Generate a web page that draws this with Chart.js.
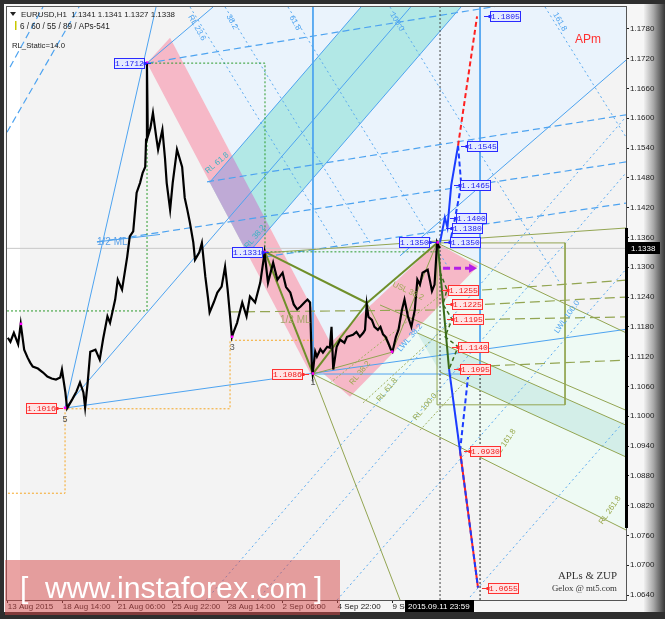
<!DOCTYPE html>
<html><head><meta charset="utf-8">
<script src="https://cdn.jsdelivr.net/npm/chart.js@4.4.1/dist/chart.umd.min.js"></script>
<style>html,body{margin:0;padding:0;background:#2e2e2e}#wrap{width:665px;height:619px}</style>
</head><body><div id="wrap"><canvas id="c" width="665" height="619"></canvas></div>
<script>
// ---------- DATA ----------
const priceBars = [0,3,7,12,15,19,23,26,29,35,41,46,51,56,61,63,67,69,75,80,84,88,90,93,96,102,107,111,116,119,125,128,133,139,142,146,150,154,157,160,161,162,163,166,169,173,175,180,183,185,189,192,197,203,206,209,212,216,218,223,226,230,233,235,240,244,249,253,256,261,263,267,273,278,282,288,294,299,303,309,314,320,324,329,333,337,341,346,349,352,354,355,358,360,364,367,372,375,377,379,383,387,392,395,402,406,410,414,416,418,420,424,427,431,434,437,440,443,446,448,452,455,459,462,466,470,474,477,480,483,489,492,494,497,500,503];
const priceClose = [1.1158,1.1150,1.1168,1.1145,1.1186,1.1134,1.1118,1.1108,1.1100,1.1096,1.1088,1.1080,1.1076,1.1074,1.1078,1.1094,1.1048,1.1016,1.1034,1.1050,1.1068,1.1048,1.1018,1.1068,1.1130,1.1134,1.1114,1.1156,1.1201,1.1188,1.1235,1.1275,1.1255,1.1321,1.1362,1.1372,1.1450,1.1470,1.1490,1.1502,1.1557,1.1712,1.1563,1.1580,1.1611,1.1560,1.1537,1.1577,1.1520,1.1470,1.1416,1.1470,1.1537,1.1502,1.1440,1.1416,1.1390,1.1350,1.1315,1.1330,1.1349,1.1281,1.1240,1.1209,1.1230,1.1249,1.1261,1.1301,1.1255,1.1160,1.1170,1.1188,1.1229,1.1201,1.1241,1.1229,1.1269,1.1329,1.1269,1.1309,1.1275,1.1289,1.1260,1.1249,1.1225,1.1215,1.1221,1.1230,1.1235,1.1229,1.1104,1.1086,1.1130,1.1120,1.1135,1.1128,1.1140,1.1138,1.1180,1.1094,1.1140,1.1154,1.1148,1.1160,1.1164,1.1170,1.1160,1.1168,1.1174,1.1225,1.1200,1.1194,1.1180,1.1174,1.1180,1.1165,1.1160,1.1148,1.1135,1.1130,1.1160,1.1174,1.1214,1.1235,1.1201,1.1180,1.1214,1.1275,1.1265,1.1289,1.1295,1.1270,1.1252,1.1265,1.1350,1.1338];
const lastPrice = 1.1338;
const xTickBars = [0,64,128,192,256,320,384,448];
const xTickLabels = ['13 Aug 2015','18 Aug 14:00','21 Aug 06:00','25 Aug 22:00','28 Aug 14:00','2 Sep 06:00','4 Sep 22:00','9 Sep 14:00'];
const yTickValues = [1.0640,1.0700,1.0760,1.0820,1.0880,1.0940,1.1000,1.1060,1.1120,1.1180,1.1240,1.1300,1.1360,1.1420,1.1480,1.1540,1.1600,1.1660,1.1720,1.1780];
const swingPoints = [[15.3,1.1186],[66.6,1.1017],[162.1,1.1712],[261.1,1.1160],[299.5,1.1331],[355.4,1.1086],[447.5,1.1130],[500.6,1.1350]];

// shaded zones (bar, price)
const lightBlueZone = [[162.1,1.1711],[239.0,1.1824],[720,1.1824],[720,1.1717],[550.0,1.1463],[550.0,1.1085],[355.4,1.1085],[355.4,1.1215],[188.9,1.1762]];
const mintZone = [[355.4,1.1085],[499.9,1.1349],[720,1.1168],[720,1.0771]];
const tealZone = [[476.6,1.1168],[720,1.0982],[720,1.0918],[503.4,1.1089]];
const pinkDownZone = [[162.1,1.1711],[188.9,1.1762],[393.6,1.1089],[352.8,1.1085]];
const pinkUpZone = [[351.9,1.1109],[499.9,1.1349],[547.6,1.1302],[398.5,1.1039]];
const cyanZone = [[235.1,1.1471],[411.3,1.1824],[527.8,1.1824],[279.3,1.1327]];
const lilacZone = [[235.1,1.1471],[261.3,1.1524],[305.5,1.1379],[279.3,1.1327]];

// line groups
const blueSolidLines = [
  [[66.6,1.1017],[172.6,1.1824]], [[66.6,1.1017],[469.2,1.1824]],
  [[235.1,1.1471],[411.3,1.1824]], [[279.3,1.1327],[527.8,1.1824]],
  [[68.9,1.1017],[720,1.1175]], [[162.1,1.1711],[239.0,1.1824]],
  [[456.8,1.1323],[720,1.1717]],
  [[355.4,1.1824],[355.4,1.1085]], [[550.0,1.1824],[550.0,1.1085]], [[355.4,1.1085],[550.0,1.1085]],
  [[103.8,1.1351],[177.2,1.1366]]
];
const blueDashedLines = [
  [[162.1,1.1711],[720,1.1868]], [[232.0,1.1472],[720,1.1607]],
  [[103.8,1.1351],[720,1.1512]], [[299.5,1.1321],[720,1.1429]],
  [[-1,1.1572],[82.9,1.1824]], [[2.5,1.1703],[40.9,1.1824]]
];
const blueDottedLines = [
  [[230.8,1.0630],[720,1.1603]], [[290.7,1.0630],[720,1.1490]],
  [[383.4,1.0630],[720,1.1296]], [[538.3,1.0636],[720,1.0994]],
  [[212.2,1.1824],[385.7,1.1335]], [[253.0,1.1824],[421.8,1.1349]],
  [[326.3,1.1824],[515.0,1.1294]], [[445.1,1.1824],[643.1,1.1268]],
  [[625.7,1.1824],[720,1.1562]]
];
const oliveThinLines = [
  [[418.3,1.1228],[447.5,1.1129]], [[447.5,1.1129],[499.9,1.1349]], [[355.4,1.1085],[447.5,1.1129]],
  [[355.4,1.1085],[720,1.0771]], [[355.4,1.1085],[456.8,1.0630]], [[499.9,1.1349],[720,1.1168]],
  [[476.6,1.1168],[720,1.0982]], [[503.4,1.1089],[720,1.0918]], [[433.5,1.1224],[720,1.1012]],
  [[299.5,1.1329],[720,1.1379]],
  [[499.9,1.1349],[649.0,1.1349],[649.0,1.1023],[499.9,1.1023],[499.9,1.1349]]
];
const oliveThickLines = [
  [[299.5,1.1331],[355.4,1.1086]], [[299.5,1.1331],[418.3,1.1228]],
  [[355.4,1.1086],[418.3,1.1228]], [[418.3,1.1228],[500.6,1.1350]]
];
const oliveDashedLines = [
  [[517.4,1.1250],[720,1.1274]], [[520.8,1.1222],[720,1.1240]], [[520.8,1.1194],[720,1.1200]],
  [[526.7,1.1099],[720,1.1113]], [[258.8,1.1210],[503.4,1.1214]]
];
const oliveDottedLines = [
  [[375.2,1.1067],[506.9,1.1248]], [[413.7,1.1027],[515.0,1.1188]], [[480.1,1.0972],[550.0,1.1103]]
];
const greenDottedPath = [[-1,1.1212],[162.1,1.1212],[162.1,1.1711],[299.5,1.1711],[299.5,1.1331],[499.9,1.1331]];
const orangeDottedPath = [[355.4,1.1153],[258.8,1.1153],[258.8,1.1015],[66.6,1.1015],[66.6,1.0845],[-1,1.0845]];
const nowLine = [[503.4,1.0630],[503.4,1.1824]];
const targetLine = [[550.0,1.0630],[550.0,1.1085]];

const upSolid = [[503.4,1.1350],[509,1.1400],[512,1.1380],[516.4,1.1465],[524.4,1.1545]];
const upDashed = [[524.4,1.1545],[528.1,1.1466],[520.9,1.1399],[515.0,1.1349]];
const upRed = [[524.4,1.1545],[546.5,1.1805]];
const downGreen = [[500.6,1.1350],[513.9,1.1095]];
const downGreenDashed = [[503.4,1.1290],[511.5,1.1255],[506.9,1.1225],[517.4,1.1195],[509.2,1.1160],[524.4,1.1140],[513.9,1.1095]];
const downBlue = [[513.9,1.1095],[526.7,1.0930]];
const downBlueDashed = [[526.7,1.0930],[547.6,1.0655]];
const downBlueBack = [[526.7,1.0930],[536.0,1.1079]];
const arrowLine = [[506.9,1.1298],[543.0,1.1298]];

const blueTags = [[561.6,1.1805,'1.1805','L'],[534.8,1.1545,'1.1545','L'],[526.7,1.1465,'1.1465','L'],[522.0,1.1400,'1.1400','L'],[517.4,1.1380,'1.1380','L'],[515.0,1.1350,'1.1350','L'],[491.7,1.1350,'1.1350','R'],[159.7,1.1712,'1.1712','R'],[297.2,1.1331,'1.1331','R']];
const redTags = [[512.7,1.1255,'1.1255','L'],[517.4,1.1225,'1.1225','L'],[518.6,1.1195,'1.1195','L'],[524.4,1.1140,'1.1140','L'],[526.7,1.1095,'1.1095','L'],[538.3,1.0930,'1.0930','L'],[559.3,1.0655,'1.0655','L'],[343.8,1.1086,'1.1086','R'],[57.2,1.1016,'1.1016','R']];
const rotLabels = [
  [220.3,1.1782,'RL 23.6',60,'#4da3f0'],[261.1,1.1794,'38.2',60,'#4da3f0'],[334.5,1.1792,'61.8',60,'#4da3f0'],
  [453.3,1.1794,'100.0',60,'#4da3f0'],[643.1,1.1794,'161.8',60,'#4da3f0'],
  [243.6,1.1510,'RL 61.8',-40,'#38b4c4'],[287.9,1.1361,'RL 38.2',-50,'#38b4c4'],
  [651.3,1.1200,'LWL 100.0',-55,'#4da3f0'],[468.4,1.1158,'LWL 38.2',-50,'#4da3f0'],
  [701.4,1.0811,'RL 261.8',-55,'#9aaa50'],[579.1,1.0946,'RL 161.8',-55,'#9aaa50'],
  [485.9,1.1019,'RL 100.0',-50,'#9aaa50'],[441.6,1.1053,'RL 61.8',-50,'#9aaa50'],
  [410.2,1.1087,'RL 38.2',-50,'#9aaa50'],[466.1,1.1252,'USL 38.2',25,'#9aaa50']
];
const plainLabels = [
  [103.8,1.1351,'1/2 ML','#5aa0e8',10],[317.0,1.1194,'1/2 ML','#a4a468',10],
  [660.6,1.1758,'APm','#ff3030',12],[63.5,1.0994,'5','#555',9],[258.5,1.1139,'3','#555',9],[352.5,1.1068,'1','#555',9]
];

// ---------- CHART ----------
const pts = a => a.map(p => ({x:p[0], y:p[1]}));
function lines(groups, color, width, dash){
  return groups.map(g => ({data:pts(g), borderColor:color, borderWidth:width, borderDash:dash, pointRadius:0, fill:false, tension:0}));
}
const datasets = [
  {data:pts(swingPoints), showLine:false, pointRadius:1.8, pointStyle:'rect', pointBackgroundColor:'#ff00ff', pointBorderWidth:0},
  {data:priceBars.map((b,i)=>({x:b,y:priceClose[i]})), borderColor:'#000', borderWidth:2.2, pointRadius:0, tension:0, fill:false},
  ...lines([upRed],'#ff2020',2,[5,3]),
  ...lines([upSolid],'#1a3cff',2,[]),
  ...lines([upDashed],'#1a3cff',2,[5,3]),
  ...lines([downBlueDashed],'#1a3cff',2,[5,3]),
  ...lines([downBlueDashed],'#ff2020',2,[]),
  ...lines([downBlue],'#1a3cff',2,[]),
  ...lines([downBlueBack],'#1a3cff',2,[5,3]),
  ...lines([downGreen],'#3a6b1a',2,[]),
  ...lines([downGreenDashed],'#3a6b1a',1.5,[4,3]),
  ...lines([arrowLine],'#b41ee6',3,[7,4]),
  ...lines(oliveThickLines,'#6f8f2a',2,[]),
  ...lines(oliveThinLines,'#93a552',1,[]),
  ...lines(oliveDashedLines,'#93a552',1.2,[10,5]),
  ...lines(oliveDottedLines,'#a0b060',1,[2,2]),
  ...lines([greenDottedPath],'#2a9a2a',1,[2,2]),
  ...lines([orangeDottedPath],'#f5a623',1,[2,2]),
  ...lines([nowLine],'#444',1,[2,2]),
  ...lines([targetLine],'#222',1,[2,2]),
  ...lines(blueSolidLines,'#4da3f0',1,[]),
  ...lines(blueDashedLines,'#4da3f0',1.2,[7,4]),
  ...lines(blueDottedLines,'#5aaaf0',1,[2,3]),
  ...lines([[[-1,lastPrice],[720,lastPrice]]],'#c8c8c8',1,[])
];

function fitText(ctx, txt, x, y, w, family, color){
  ctx.font = '10px ' + family;
  const m = ctx.measureText(txt).width;
  ctx.font = (10*w/m).toFixed(2) + 'px ' + family;
  ctx.fillStyle = color; ctx.fillText(txt, x, y);
}

const decor = {
  id:'decor',
  beforeDraw(chart){
    const {ctx, chartArea:a} = chart;
    ctx.save();
    ctx.fillStyle='#2e2e2e'; ctx.fillRect(0,0,665,619);
    ctx.fillStyle='#f6f6f6'; ctx.fillRect(4,4,646,608);
    const g = ctx.createLinearGradient(644,0,665,0);
    g.addColorStop(0,'#f0f0f0'); g.addColorStop(0.45,'#a8a8a8'); g.addColorStop(1,'#363636');
    ctx.fillStyle=g; ctx.fillRect(644,4,21,608);
    ctx.fillStyle='#f3f3f3'; ctx.fillRect(a.left,a.top,a.right-a.left,a.bottom-a.top);
    ctx.fillStyle='#ffffff'; ctx.fillRect(a.left,a.top,13,a.bottom-a.top);
    ctx.restore();
  },
  beforeDatasetsDraw(chart){
    const {ctx, chartArea:a, scales:{x:sx, y:sy}} = chart;
    ctx.save();
    ctx.beginPath(); ctx.rect(a.left,a.top,a.right-a.left,a.bottom-a.top); ctx.clip();
    const zones = [[lightBlueZone,'#eaf3fc'],[mintZone,'#eefaf4'],[tealZone,'#d3eee8'],[pinkDownZone,'#f6b8c7'],[pinkUpZone,'#f6b8c7'],[cyanZone,'#b2e8e6'],[lilacZone,'#bfaad6']];
    for (const [z,c] of zones){
      ctx.beginPath();
      z.forEach((p,i)=>{const X=sx.getPixelForValue(p[0]),Y=sy.getPixelForValue(p[1]); i?ctx.lineTo(X,Y):ctx.moveTo(X,Y);});
      ctx.closePath(); ctx.fillStyle=c; ctx.fill();
    }
    ctx.restore();
  },
  afterDatasetsDraw(chart){
    const {ctx, chartArea:a, scales:{x:sx, y:sy}} = chart;
    ctx.save();
    ctx.beginPath(); ctx.rect(a.left,a.top,a.right-a.left,a.bottom-a.top); ctx.clip();
    const ax = sx.getPixelForValue(546.5), ay = sy.getPixelForValue(1.1298);
    ctx.fillStyle='#b41ee6'; ctx.beginPath(); ctx.moveTo(ax,ay); ctx.lineTo(ax-8,ay-4.5); ctx.lineTo(ax-8,ay+4.5); ctx.closePath(); ctx.fill();
    ctx.font='8px "Liberation Sans"'; ctx.textAlign='center'; ctx.textBaseline='middle';
    for (const [b,p,t,ang,c] of rotLabels){
      ctx.save(); ctx.translate(sx.getPixelForValue(b), sy.getPixelForValue(p)); ctx.rotate(ang*Math.PI/180);
      ctx.fillStyle=c; ctx.fillText(t,0,0); ctx.restore();
    }
    for (const [b,p,t,c,s] of plainLabels){
      ctx.font = s+'px "Liberation Sans"'; ctx.textAlign='left'; ctx.fillStyle=c;
      ctx.fillText(t, sx.getPixelForValue(b), sy.getPixelForValue(p));
    }
    const tag = (b,p,t,side,border,bg,fg) => {
      const x = Math.round(sx.getPixelForValue(b)), y = Math.round(sy.getPixelForValue(p));
      const w=31,h=11, bx = side==='L'? x : x-w, by = y-5;
      ctx.fillStyle=bg; ctx.fillRect(bx,by,w,h);
      ctx.strokeStyle=border; ctx.lineWidth=1; ctx.strokeRect(bx+0.5,by+0.5,w-1,h-1);
      const cx = side==='L'? bx : bx+w;
      ctx.beginPath(); ctx.moveTo(side==='L'?cx-6:cx+6, y+0.5); ctx.lineTo(cx, y+0.5); ctx.stroke();
      ctx.fillStyle=border; ctx.fillRect(cx-1.5,y-1,3,3);
      ctx.fillStyle=fg; ctx.font='8px "Liberation Mono"'; ctx.textAlign='center'; ctx.textBaseline='middle';
      ctx.fillText(t, bx+w/2, y+1);
    };
    blueTags.forEach(q=>tag(q[0],q[1],q[2],q[3],'#2a2aff','#e4eaff','#2020ee'));
    redTags.forEach(q=>tag(q[0],q[1],q[2],q[3],'#ff3030','#ffe4e4','#ee1c1c'));
    ctx.restore();

    ctx.save();
    ctx.textAlign='left'; ctx.textBaseline='alphabetic';
    ctx.fillStyle='#222'; ctx.beginPath(); ctx.moveTo(10,12); ctx.lineTo(16,12); ctx.lineTo(13,16); ctx.closePath(); ctx.fill();
    fitText(ctx,'EURUSD,H1  1.1341 1.1341 1.1327 1.1338',21,17,154,'"Liberation Sans"','#222');
    ctx.fillStyle='#c8c800'; ctx.fillRect(15,21,1.5,9);
    fitText(ctx,'6 / 60 / 55 / 89 / APs-541',20,29,90,'"Liberation Sans"','#222');
    fitText(ctx,'RL_Static=14.0',12,48,53,'"Liberation Sans"','#222');
    fitText(ctx,'APLs & ZUP',558,579,59,'"Liberation Serif"','#333');
    fitText(ctx,'Gelox @ mt5.com',552,591,65,'"Liberation Serif"','#333');
    ctx.restore();
  },
  afterDraw(chart){
    const {ctx, chartArea:a, scales:{y:sy}} = chart;
    ctx.save();
    ctx.strokeStyle='#555'; ctx.lineWidth=1; ctx.strokeRect(a.left-0.5,a.top-0.5,a.right-a.left+1,a.bottom-a.top+1);
    ctx.strokeStyle='#000'; ctx.lineWidth=3; ctx.beginPath(); ctx.moveTo(a.right+0.5,228); ctx.lineTo(a.right+0.5,528); ctx.stroke();
    const py = Math.round(sy.getPixelForValue(lastPrice));
    ctx.fillStyle='#000'; ctx.fillRect(627,py-6,33,12);
    ctx.fillStyle='#fff'; ctx.font='8px "Liberation Sans"'; ctx.textAlign='left'; ctx.textBaseline='middle';
    ctx.fillText(lastPrice.toFixed(4),631,py+0.5);
    ctx.fillStyle='#000'; ctx.fillRect(405,600,69,12);
    ctx.fillStyle='#fff'; ctx.fillText('2015.09.11 23:59',408,606.5);
    ctx.fillStyle='rgba(214,72,72,0.5)'; ctx.fillRect(5,560,335,55);
    ctx.textBaseline='alphabetic';
    ctx.fillStyle='#fff';
    ctx.font='30px "Liberation Sans"'; ctx.fillText('[',20,598);
    fitText(ctx,'www.instaforex',45,598,203,'"Liberation Sans"','#fff');
    fitText(ctx,'.com',249,598,58,'"Liberation Sans"','#fff');
    ctx.font='30px "Liberation Sans"'; ctx.fillStyle='#fff'; ctx.fillText(']',314,598);
    ctx.restore();
  }
};

const chart = new Chart(document.getElementById('c'), {
  type:'line',
  data:{datasets},
  options:{
    responsive:false, animation:false, events:[],
    layout:{padding:{left:7,top:7,right:0,bottom:0}},
    plugins:{legend:{display:false}, tooltip:{enabled:false}},
    scales:{
      x:{type:'linear', min:-1, max:720,
        afterFit(s){ s.height = 19; },
        afterBuildTicks(s){ s.ticks = xTickBars.map(v=>({value:v})); },
        ticks:{autoSkip:false, maxRotation:0, align:'start', padding:-1, color:'#222', font:{family:'"Liberation Sans"', size:8},
          callback(v){ const i = xTickBars.indexOf(v); return i>=0 ? xTickLabels[i] : ''; }},
        grid:{drawOnChartArea:false, tickLength:3, color:'#222'},
        border:{display:true, color:'#555'}
      },
      y:{type:'linear', position:'right', min:1.0630, max:1.1824,
        afterFit(s){ s.width = 39; },
        afterBuildTicks(s){ s.ticks = yTickValues.map(v=>({value:v})); },
        ticks:{autoSkip:false, padding:1, color:'#222', font:{family:'"Liberation Sans"', size:8},
          callback(v){ return Number(v).toFixed(4); }},
        grid:{drawOnChartArea:false, tickLength:3, color:'#222'},
        border:{display:true, color:'#555'}
      }
    }
  },
  plugins:[decor]
});
</script>
</body></html>
